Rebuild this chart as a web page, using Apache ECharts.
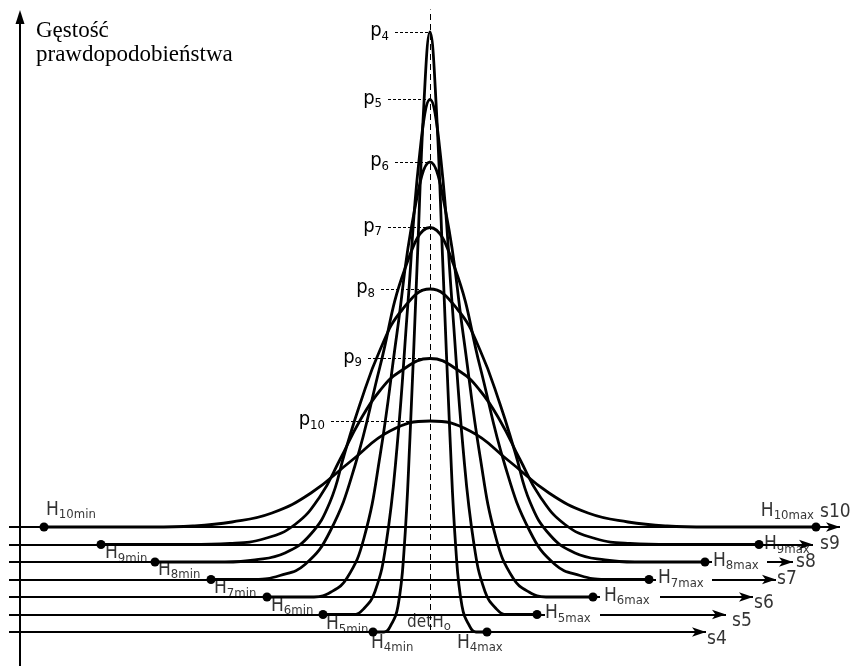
<!DOCTYPE html>
<html>
<head>
<meta charset="UTF-8">
<title>Gęstość prawdopodobieństwa</title>
<script src="https://cdn.jsdelivr.net/npm/echarts@6/dist/echarts.min.js"></script>
<style>html,body{margin:0;padding:0;background:#fff}</style>
</head>
<body>
<div id="main" style="width:850px;height:666px"></div>
<script type="text/javascript">
// levels s4 .. s10 ; x = offset from detHo, y = height
var levels = [4, 5, 6, 7, 8, 9, 10];
var baseLevel = [34, 51.5, 69, 86.5, 104, 121.5, 139];
var halfWidth = [57, 107, 163, 219, 275, 329, 386];    // Hmin / Hmax
var axisEnd = [283, 303, 330, 353, 370, 390, 417];      // tip of each s axis
var gapStart = [null, 115, 170, 226, 282, null, null];  // s axis broken around Hmax label
var gapEnd = [null, 170, 230, 282, 337, null, null];

// half profiles [offset, height above own axis]
var prof4  = [[0, 600], [6, 530], [13, 364], [20, 195], [26, 81], [32, 26], [39, 7], [46, 0]];
var prof5  = [[0, 515], [11, 454], [22, 312], [33, 167], [44, 70], [55, 23], [66, 6], [77, 0]];
var prof6  = [[0, 435], [16, 384], [33, 264], [50, 141], [66, 59], [83, 19], [99, 5], [116, 0]];
var prof7  = [[0, 352], [25, 311], [50, 213], [75, 114], [100, 48], [125, 15], [150, 4], [175, 0]];
var prof8  = [[0, 273], [28, 252], [50, 212], [70, 158], [85, 110], [100, 60], [120, 27], [145, 9], [175, 2], [205, 0]];
var prof9  = [[0, 186], [30, 173], [50, 154], [70, 124], [90, 85], [110, 48], [135, 20], [165, 6], [200, 1], [240, 0]];
var prof10 = [[0, 106], [40, 96], [79, 66], [119, 34], [158, 14], [198, 5], [237, 1], [277, 0]];
var profiles = [prof4, prof5, prof6, prof7, prof8, prof9, prof10];

var font = '"DejaVu Sans Condensed", "DejaVu Sans", sans-serif';

// annotation layout (pixels)
var peakDash = [35, 42, 35, 42, 49, 62, 99];
var minLabelPos = [[-1, 13], [4, 12], [5, 11], [4, 11], [4, 10], [5, 11], [3, -15]];
var maxLabelPos = [[-29, 13], [9, 1], [12, 1], [10, 1], [9, 1], [6, 2], [-1, -14]];
var sLabelPos = [[-5, 8], [0, 8], [-5, 7], [-5, 1], [-3, 1], [1, 1], [-26, -14]];

function curveData(k) {
    var p = profiles[k], b = baseLevel[k], w = halfWidth[k];
    var out = [[-w, b]];
    for (var i = p.length - 1; i > 0; i--) out.push([-p[i][0], b + p[i][1]]);
    for (i = 0; i < p.length; i++) out.push([p[i][0], b + p[i][1]]);
    out.push([w, b]);
    return out;
}

var plainSeg = [], arrowSeg = [], dashSeg = [], dots = [], labels = [];
levels.forEach(function (lv, k) {
    var b = baseLevel[k], w = halfWidth[k];
    var peak = b + profiles[k][0][1];
    if (gapStart[k] == null) {
        arrowSeg.push({coords: [[-421, b], [axisEnd[k] - 7, b]]});
    } else {
        plainSeg.push({coords: [[-421, b], [gapStart[k], b]]});
        arrowSeg.push({coords: [[gapEnd[k], b], [axisEnd[k] - 7, b]]});
    }
    dashSeg.push({coords: [[-peakDash[k], peak], [0, peak]], level: lv});
    dots.push([-w, b], [w, b]);
    labels.push({
        value: [-w, b],
        label: {position: minLabelPos[k], align: 'left', formatter: '{h|H}{s|' + lv + 'min}'}
    });
    labels.push({
        value: [w, b],
        label: {position: maxLabelPos[k], align: k === 6 ? 'right' : 'left', formatter: '{h|H}{s|' + lv + 'max}'}
    });
    labels.push({
        value: [axisEnd[k], b],
        label: {position: sLabelPos[k], align: 'left', formatter: '{t|s' + lv + '}'}
    });
});
labels.push({value: [0, 41], label: {position: [0, 0], align: 'center', formatter: '{d|detH}{s|o}'}});

var series = [
    {
        type: 'lines', coordinateSystem: 'cartesian2d', silent: true, z: 1,
        symbol: 'none',
        lineStyle: {color: '#000', width: 2, opacity: 1},
        data: plainSeg
    },
    {
        type: 'lines', coordinateSystem: 'cartesian2d', silent: true, z: 1,
        symbol: ['none', 'arrow'], symbolSize: [0, [7, 14]],
        lineStyle: {color: '#000', width: 2, opacity: 1},
        data: arrowSeg
    },
    {
        // vertical axis
        type: 'lines', coordinateSystem: 'cartesian2d', silent: true, z: 1,
        symbol: ['none', 'triangle'], symbolSize: [0, [9, 14]],
        lineStyle: {color: '#000', width: 2, opacity: 1},
        data: [{coords: [[-410, 0], [-410, 649]]}]
    },
    {
        // detHo
        type: 'lines', coordinateSystem: 'cartesian2d', silent: true, z: 1,
        symbol: 'none',
        lineStyle: {color: '#000', width: 1, type: [6, 4], opacity: 1},
        data: [{coords: [[0, 36], [0, 661]]}]
    },
    {
        type: 'lines', coordinateSystem: 'cartesian2d', silent: true, z: 1,
        symbol: 'none',
        lineStyle: {color: '#000', width: 1, type: [3, 2], opacity: 1},
        label: {
            show: true, position: 'start', distance: 6,
            formatter: function (p) { return '{p|p}{s|' + p.data.level + '}'; },
            rich: {
                p: {fontFamily: font, fontSize: 20, color: '#000', verticalAlign: 'bottom', padding: [0, 0, 2, 0]},
                s: {fontFamily: font, fontSize: 13, color: '#000', verticalAlign: 'bottom'}
            }
        },
        data: dashSeg
    }
];

levels.forEach(function (lv, k) {
    series.push({
        type: 'line', name: 's' + lv, z: 3,
        smooth: 0.45,
        symbol: 'none', silent: true,
        lineStyle: {color: '#000', width: 2.8},
        data: curveData(k)
    });
});

series.push({
    type: 'scatter', z: 4, silent: true,
    symbolSize: 9, itemStyle: {color: '#000', opacity: 1},
    data: dots
});
series.push({
    type: 'scatter', z: 5, silent: true,
    symbolSize: 2, itemStyle: {color: 'rgba(0,0,0,0)'},
    label: {
        show: true, verticalAlign: 'middle', color: '#000',
        rich: {
            h: {fontFamily: font, fontSize: 19, color: '#000', verticalAlign: 'bottom', padding: [0, 0, 2, 0]},
            s: {fontFamily: font, fontSize: 13, color: '#000', verticalAlign: 'bottom'},
            d: {fontFamily: font, fontSize: 17, color: '#000', verticalAlign: 'bottom', padding: [0, 0, 2, 0]},
            t: {fontFamily: font, fontSize: 19, color: '#000'}
        }
    },
    data: labels
});

var chart = echarts.init(document.getElementById('main'));
chart.setOption({
    animation: false,
    backgroundColor: '#fff',
    title: {
        text: 'Gęstość\nprawdopodobieństwa',
        left: 36, top: 19, padding: 0,
        textStyle: {fontFamily: '"Liberation Serif", serif', fontSize: 23, fontWeight: 'normal', lineHeight: 24, color: '#000'}
    },
    grid: {left: 9, right: 0, top: 10, bottom: 0},
    xAxis: {type: 'value', min: -421, max: 420, show: false},
    yAxis: {type: 'value', min: 0, max: 656, show: false},
    series: series
});
</script>
</body>
</html>
